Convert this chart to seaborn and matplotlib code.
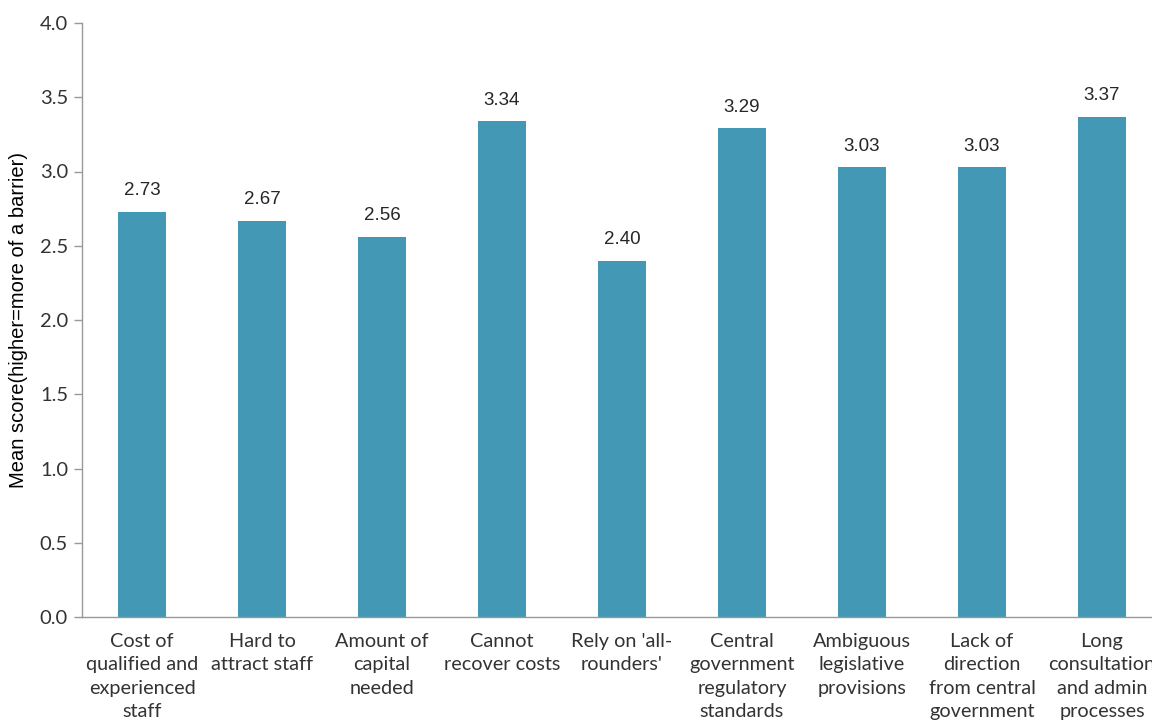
import matplotlib
matplotlib.use("Agg")
import matplotlib.pyplot as plt
import seaborn as sns
import pandas as pd

categories = [
    "Cost of\nqualified and\nexperienced\nstaff",
    "Hard to\nattract staff",
    "Amount of\ncapital\nneeded",
    "Cannot\nrecover costs",
    "Rely on 'all-\nrounders'",
    "Central\ngovernment\nregulatory\nstandards",
    "Ambiguous\nlegislative\nprovisions",
    "Lack of\ndirection\nfrom central\ngovernment",
    "Long\nconsultation\nand admin\nprocesses",
]
scores = [2.73, 2.67, 2.56, 3.34, 2.40, 3.29, 3.03, 3.03, 3.37]
y_ticks = [0.0, 0.5, 1.0, 1.5, 2.0, 2.5, 3.0, 3.5, 4.0]

df = pd.DataFrame({"barrier": categories, "score": scores})

sns.set_theme(style="white")
plt.rcParams["font.family"] = ["Lato", "DejaVu Sans"]

fig = plt.figure(figsize=(11.52, 7.26), dpi=100)
ax = fig.add_axes([82 / 1152, 109 / 726, 1080 / 1152, 594 / 726])

sns.barplot(data=df, x="barrier", y="score", color="#4398B5", width=0.4,
            saturation=1, edgecolor="none", ax=ax)

for i, v in enumerate(scores):
    ax.annotate(f"{v:.2f}", (i, v), xytext=(0, 9), textcoords="offset points",
                ha="center", va="bottom", fontsize=13.5, color="#262626",
                family=["Liberation Sans", "DejaVu Sans"])

ax.set_ylim(0, 4.0)
ax.set_xlim(-0.5, len(categories) - 0.5)
ax.set_yticks(y_ticks)
ax.set_yticklabels([f"{t:.1f}" for t in y_ticks])

# category boundary ticks on the x axis
ax.set_xticks([i + 0.5 for i in range(-1, len(categories))], minor=True)
ax.tick_params(axis="x", which="minor", length=7, width=1, color="#999999", direction="out")
ax.tick_params(axis="x", which="major", length=0, pad=11.5)
ax.set_xticks(range(len(categories)))
ax.set_xticklabels(categories, fontsize=14.3, color="#333333", linespacing=1.46, va="top")
ax.tick_params(axis="y", length=6, width=1, color="#999999", labelsize=14.5,
               labelcolor="#333333", pad=4, left=True)

for side in ["top", "right"]:
    ax.spines[side].set_visible(False)
for side in ["left", "bottom"]:
    ax.spines[side].set_color("#999999")
    ax.spines[side].set_linewidth(1)

ax.set_xlabel("")
ax.set_ylabel("Mean score(higher=more of a barrier)", fontsize=14.5, color="black",
              family=["Liberation Sans", "DejaVu Sans"])
ax.yaxis.set_label_coords(-0.050, 0.5)

fig.savefig("out.png", dpi=100)
